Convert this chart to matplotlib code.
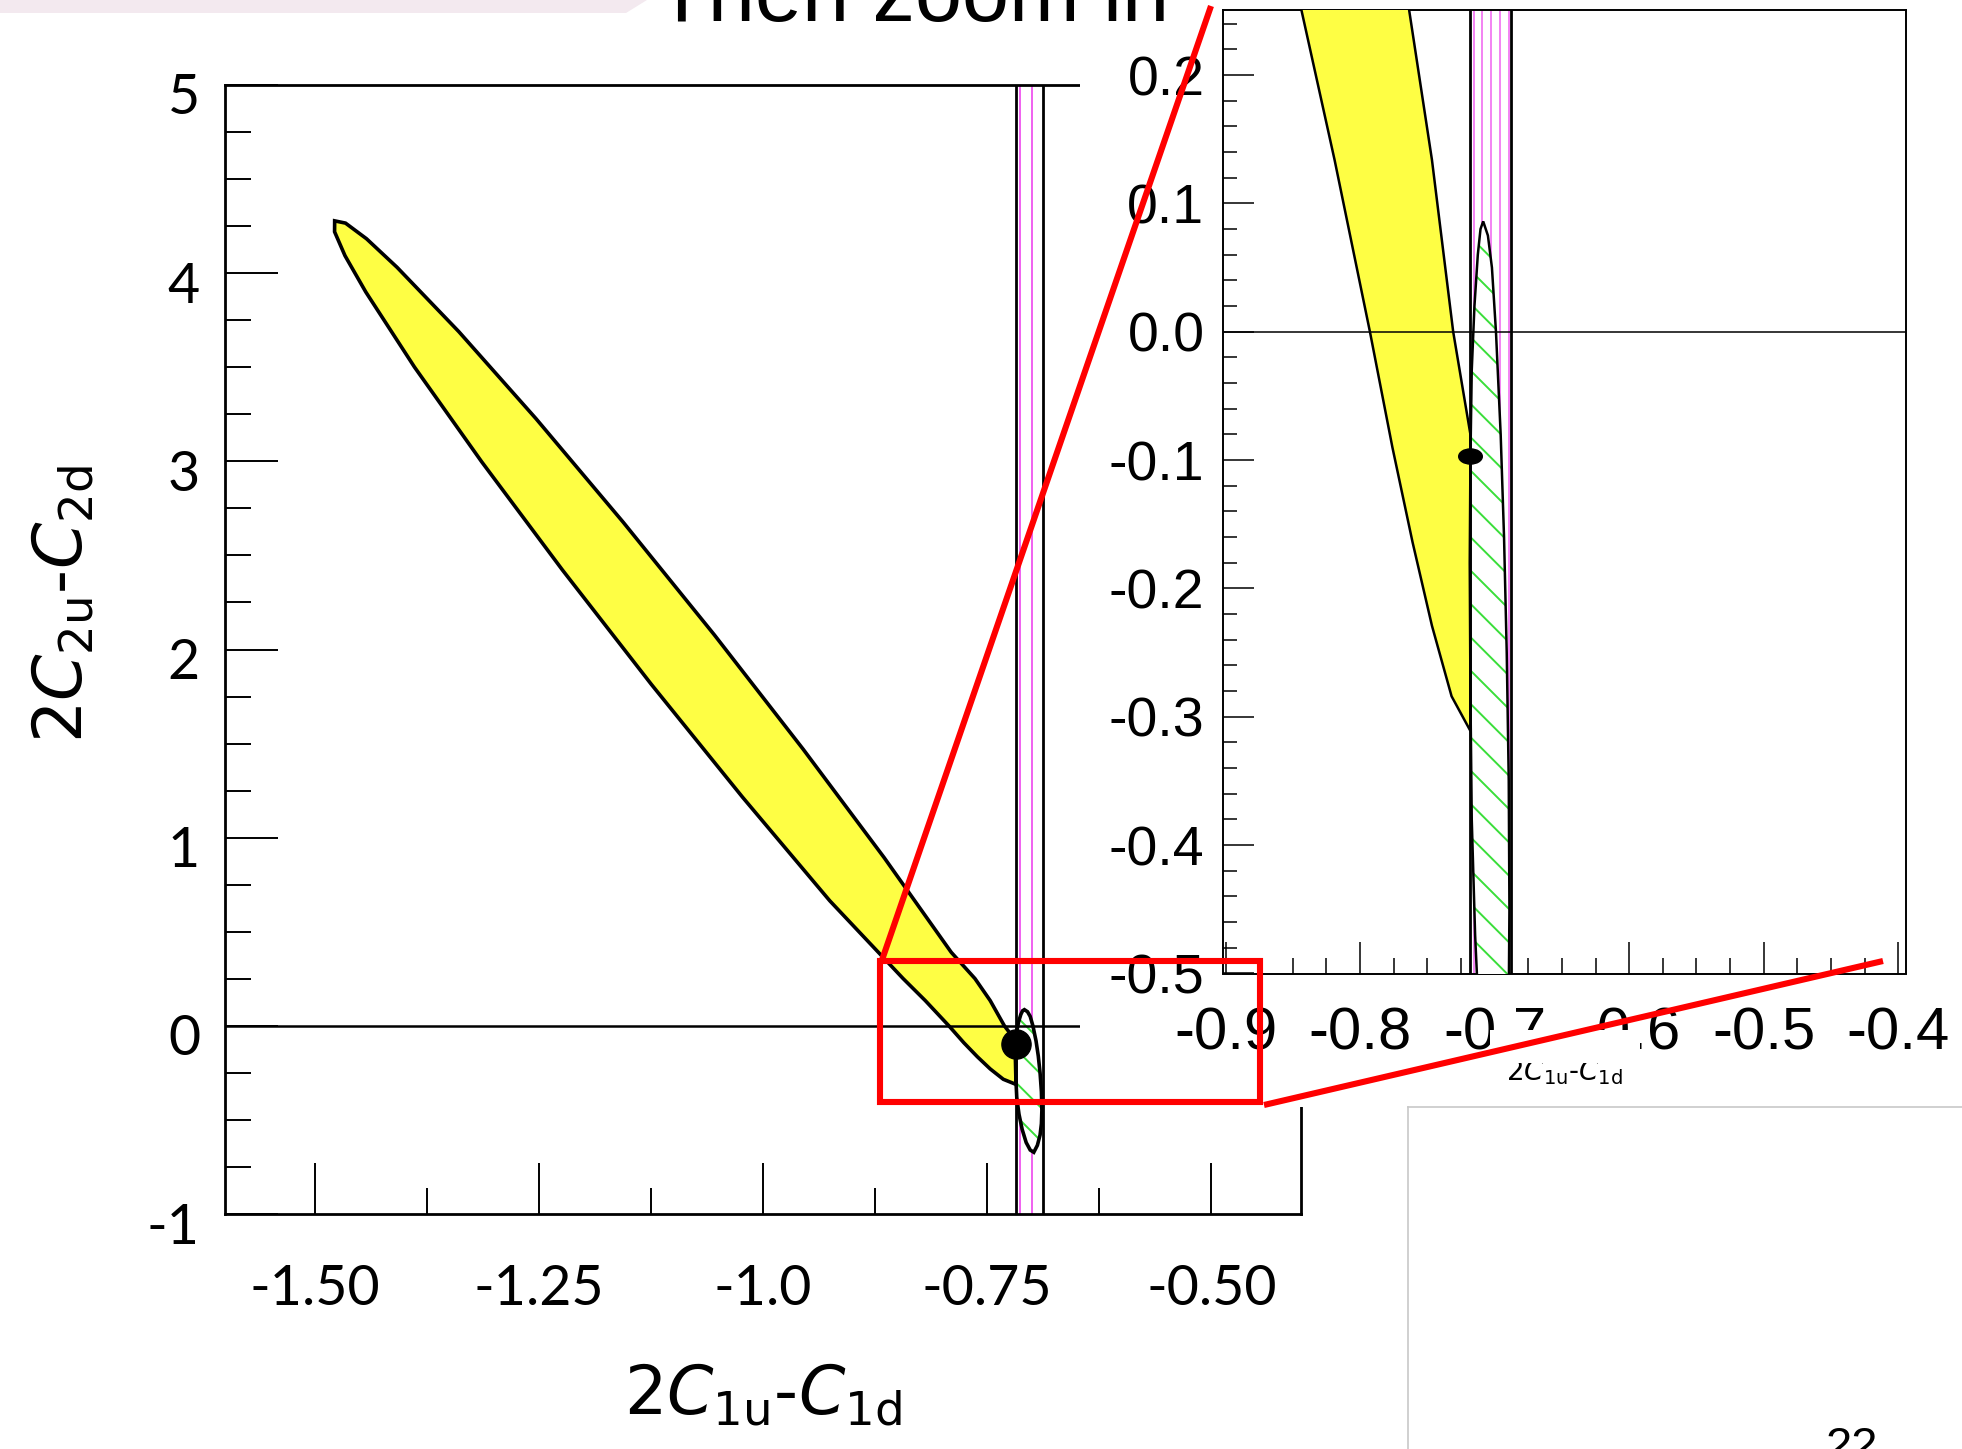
import matplotlib
matplotlib.use('Agg')
import matplotlib.pyplot as plt
from matplotlib.patches import Polygon, Rectangle
from matplotlib.path import Path
from matplotlib.transforms import Affine2D, ScaledTranslation
from matplotlib.ticker import MultipleLocator, FixedLocator

W, H, DPI = 1962, 1449, 100

# ---------------- data ----------------
# yellow contour (clipped at the left edge of the vertical band)
yellow_x = [-1.4777, -1.4656, -1.4422, -1.4081, -1.3392, -1.2532, -1.1560, -1.0543,
            -0.9552, -0.8649, -0.7901, -0.7636, -0.7466, -0.7308, -0.7180, -0.7180,
            -0.7320, -0.7466, -0.7610, -0.7760, -0.7927, -0.8190, -0.8437, -0.9256,
            -1.0228, -1.1244, -1.2236, -1.3138, -1.3887, -1.4430, -1.4662, -1.4778]
yellow_y = [4.278, 4.266, 4.183, 4.031, 3.689, 3.227, 2.677, 2.078,
            1.470, 0.894, 0.391, 0.251, 0.134, 0.000, -0.080, -0.311,
            -0.284, -0.229, -0.164, -0.090, 0.000, 0.134, 0.251, 0.665,
            1.215, 1.814, 2.422, 2.998, 3.501, 3.900, 4.093, 4.220]
# green hatched contour
green_x = [-0.7085, -0.7050, -0.7020, -0.6990, -0.6955, -0.6930, -0.6910, -0.6895,
           -0.6890, -0.6895, -0.6910, -0.6940, -0.6980, -0.7020, -0.7065, -0.7110,
           -0.7145, -0.7170, -0.7180, -0.7185, -0.7180, -0.7170, -0.7150, -0.7125, -0.7105]
green_y = [0.086, 0.075, 0.050, 0.000, -0.080, -0.160, -0.250, -0.350,
           -0.450, -0.520, -0.580, -0.635, -0.672, -0.660, -0.620, -0.550,
           -0.470, -0.380, -0.280, -0.180, -0.100, -0.030, 0.020, 0.060, 0.080]
band_edges = [-0.718, -0.688]
main_magenta_x = [-0.7137, -0.6997]
inset_magenta_x = [-0.7157, -0.7096, -0.7027, -0.6958, -0.6895]
best_fit_x, best_fit_y = -0.718, -0.097

main_xticks = [-1.50, -1.25, -1.0, -0.75, -0.50]
main_xticklabels = ['-1.50', '-1.25', '-1.0', '-0.75', '-0.50']
main_yticks = [-1, 0, 1, 2, 3, 4, 5]
main_yticklabels = ['-1', '0', '1', '2', '3', '4', '5']
inset_xticks = [-0.9, -0.8, -0.7, -0.6, -0.5, -0.4]
inset_xticklabels = ['-0.9', '-0.8', '-0.7', '-0.6', '-0.5', '-0.4']
inset_yticks = [-0.5, -0.4, -0.3, -0.2, -0.1, 0.0, 0.1, 0.2]
inset_yticklabels = ['-0.5', '-0.4', '-0.3', '-0.2', '-0.1', '0.0', '0.1', '0.2']

# ---------------- style ----------------
plt.rcParams['axes.unicode_minus'] = False
plt.rcParams['hatch.linewidth'] = 1.4
plt.rcParams['mathtext.fontset'] = 'dejavusans'
NARROW = ['Liberation Sans Narrow', 'Liberation Sans', 'DejaVu Sans']
YELLOW = '#fefe44'
GREEN = '#3ade3a'
MAGENTA = '#f060f0'

fig = plt.figure(figsize=(W / DPI, H / DPI), dpi=DPI)
fig.patch.set_facecolor('white')


def full_axes(z):
    a = fig.add_axes([0, 0, 1, 1], zorder=z)
    a.set_xlim(0, W)
    a.set_ylim(H, 0)
    a.axis('off')
    a.patch.set_alpha(0)
    return a


# slide decorations behind everything
bg = full_axes(0)
bg.add_patch(Polygon([(0, 0), (647, 0), (626, 13), (0, 13)], closed=True,
                     facecolor='#f3e9ef', edgecolor='none'))


def draw_contours(a, outline_lw, magenta_x, band_lw, magenta_lw, zero_lw):
    ypoly = list(zip(yellow_x, yellow_y))
    gpoly = list(zip(green_x, green_y))
    for xm in magenta_x:
        a.axvline(xm, color=MAGENTA, lw=magenta_lw, zorder=2)
    a.add_patch(Polygon(ypoly, closed=True, facecolor=YELLOW, edgecolor='none', zorder=3))
    a.add_patch(Polygon(ypoly, closed=True, fill=False, edgecolor='black',
                        lw=outline_lw, zorder=4))
    a.add_patch(Polygon(gpoly, closed=True, facecolor='white', edgecolor=GREEN,
                        lw=0, hatch='\\', zorder=3))
    a.add_patch(Polygon(gpoly, closed=True, fill=False, edgecolor='black',
                        lw=outline_lw, zorder=4))
    for xb in band_edges:
        a.axvline(xb, color='black', lw=band_lw, zorder=5)
    a.axhline(0, color='black', lw=zero_lw, zorder=5)


# ---------------- main plot ----------------
ax = fig.add_axes([225 / W, 1 - 1214 / H, (1301 - 225) / W, (1214 - 85) / H], zorder=1)
ax.set_xlim(-1.6, -0.4)
ax.set_ylim(-1, 5)
draw_contours(ax, 2.6, main_magenta_x, 2.0, 1.4, 1.8)
ax.plot([best_fit_x], [best_fit_y], 'o', color='black', ms=21, zorder=7)
for s in ax.spines.values():
    s.set_linewidth(2.0)
ax.xaxis.set_major_locator(FixedLocator(main_xticks))
ax.set_xticklabels(main_xticklabels)
ax.xaxis.set_minor_locator(MultipleLocator(0.125))
ax.yaxis.set_major_locator(FixedLocator(main_yticks))
ax.set_yticklabels(main_yticklabels)
ax.yaxis.set_minor_locator(MultipleLocator(0.25))
ax.tick_params(which='both', direction='in', top=False, right=False, width=1.4)
ax.tick_params(axis='x', which='major', length=37, labelsize=40, pad=36)
ax.tick_params(axis='x', which='minor', length=19)
ax.tick_params(axis='y', which='major', length=38, labelsize=40, pad=18)
ax.tick_params(axis='y', which='minor', length=19)
for lab in ax.get_xticklabels() + ax.get_yticklabels():
    lab.set_family(['Lato', 'DejaVu Sans'])
shift = ScaledTranslation(0, -0.09, fig.dpi_scale_trans)
for lab in ax.get_yticklabels():
    lab.set_transform(lab.get_transform() + shift)

fig.text(763 / W, 1 - 1395 / H, r'2$\mathit{C}_{\mathrm{1u}}$-$\mathit{C}_{\mathrm{1d}}$',
         ha='center', va='center', fontsize=48)
fig.text(63 / W, 1 - 604 / H, r'2$\mathit{C}_{\mathrm{2u}}$-$\mathit{C}_{\mathrm{2d}}$',
         ha='center', va='center', fontsize=48, rotation=90)

# ---------------- panel covering part of the main plot ----------------
panel = full_axes(2)
panel.add_patch(Rectangle((1080, 0), W - 1080, 1107, facecolor='white', edgecolor='none'))
panel.plot([1408, W], [1107, 1107], color='#c8c8c8', lw=1.2)
panel.plot([1408, 1408], [1107, H], color='#c8c8c8', lw=1.2)

# ---------------- zoomed inset ----------------
ax2 = fig.add_axes([1222.5 / W, 1 - 973.5 / H, (1905.7 - 1222.5) / W, (973.5 - 10) / H], zorder=3)
ax2.set_xlim(-0.9023, -0.3944)
ax2.set_ylim(-0.5, 0.2507)
draw_contours(ax2, 1.8, inset_magenta_x, 2.0, 1.1, 1.1)
ell = Path.unit_circle().transformed(Affine2D().scale(1.0, 0.64))
ax2.plot([best_fit_x], [best_fit_y], marker=ell, ms=17, color='black', ls='none', zorder=7)
for s in ax2.spines.values():
    s.set_linewidth(1.4)
ax2.xaxis.set_major_locator(FixedLocator(inset_xticks))
ax2.set_xticklabels(inset_xticklabels)
ax2.xaxis.set_minor_locator(MultipleLocator(0.025))
ax2.yaxis.set_major_locator(FixedLocator(inset_yticks))
ax2.set_yticklabels(inset_yticklabels)
ax2.yaxis.set_minor_locator(MultipleLocator(0.02))
ax2.tick_params(which='both', direction='in', top=False, right=False, width=1.1)
ax2.tick_params(axis='x', which='major', length=23, labelsize=43, pad=24)
ax2.tick_params(axis='x', which='minor', length=11.5)
ax2.tick_params(axis='y', which='major', length=22, labelsize=40, pad=13)
ax2.tick_params(axis='y', which='minor', length=10)
for lab in ax2.get_xticklabels() + ax2.get_yticklabels():
    lab.set_family(NARROW)

# ---------------- overlay: title, partial texts and red zoom markers ----------------
ov = full_axes(10)
ov.text(913, 21, 'Then zoom in', ha='center', va='baseline', fontsize=61,
        family=NARROW, color='black', zorder=1)
ov.text(1852, 1460, '22', ha='center', va='baseline', fontsize=34,
        family=['Liberation Sans', 'DejaVu Sans'], zorder=1)
ov.text(1564, 1080, r'2$\mathit{C}_{\mathrm{1u}}$-$\mathit{C}_{\mathrm{1d}}$', ha='center',
        va='baseline', fontsize=20, zorder=1)
ov.add_patch(Rectangle((1490, 1030), 150, 33, facecolor='white', edgecolor='none', zorder=2))
RED = '#ff0000'
ov.add_patch(Rectangle((880, 961), 380, 141, fill=False, edgecolor=RED, lw=4.4, zorder=5))
ov.plot([882, 1211], [960, 6], color=RED, lw=4.4, solid_capstyle='butt', zorder=5)
ov.plot([1264, 1883], [1105, 961], color=RED, lw=4.4, solid_capstyle='butt', zorder=5)

fig.savefig('out.png', dpi=DPI, facecolor='white')
